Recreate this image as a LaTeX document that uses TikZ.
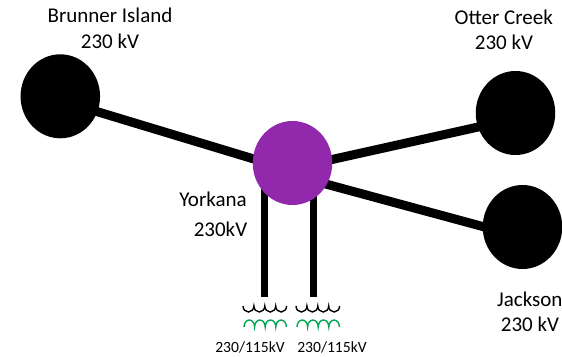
\documentclass[tikz,border=0pt]{standalone}
\usepackage{fontspec}
\setmainfont{Carlito}
\usetikzlibrary{shapes.geometric}
\definecolor{buspurple}{HTML}{9229AD}
\definecolor{coilgreen}{HTML}{00A651}
\tikzset{
    bus/.style={ellipse,fill=#1,inner sep=0pt,minimum width=79.5pt,minimum height=84pt},
    line/.style={line width=9pt,draw=black},
    feeder/.style={line width=7pt,draw=black},
    label/.style={font=\fontsize{21}{23}\selectfont,inner sep=0pt,align=center},
    rating/.style={font=\fontsize{15.6}{17}\selectfont,inner sep=0pt},
    coil/.style={line width=1.4pt}
}
\begin{document}
\begin{tikzpicture}[x=1pt,y=-1pt]
    \useasboundingbox (0,0) rectangle (562,356);
    \clip (0,0) rectangle (562,356);
    \coordinate (feedera) at (264.8,297);
    \coordinate (feederb) at (313.5,297);
    \node[bus=black] (brunner) at (60.3,96.3) {};
    \node[bus=black] (otter) at (515.5,113) {};
    \node[bus=black] (jackson) at (522.5,227) {};
    \coordinate (yorkanacentre) at (292.5,163);
    \draw[line] ([yshift=-4.2pt]brunner.center) -- ([yshift=-7.7pt]yorkanacentre);
    \draw[line] ([yshift=-5.7pt]otter.center) -- ([yshift=-5.3pt]yorkanacentre);
    \draw[line] ([yshift=-10.3pt]jackson.center) -- ([yshift=-12pt]yorkanacentre);
    \draw[feeder] ([xshift=-27.7pt]yorkanacentre) -- (feedera);
    \draw[feeder] ([xshift=21pt]yorkanacentre) -- (feederb);
    \node[bus=buspurple] (yorkana) at (yorkanacentre) {};
    \node[label] (brunnername) at (110,15) {Brunner Island};
    \node[label] (brunnerkv) at (110,41) {230 kV};
    \node[label] (ottername) at (503.8,17) {Otter Creek};
    \node[label] (otterkv) at (504,42) {230 kV};
    \node[label] (yorkananame) at (213,199) {Yorkana};
    \node[label] (yorkanakv) at (220.5,229) {230kV};
    \node[label,anchor=west] (jacksonname) at (497,299) {Jackson};
    \node[label] (jacksonkv) at (530,324) {230 kV};
    \foreach \x in {243,296} {
        \draw[coil,black] (\x,306) arc[start angle=180,end angle=360,x radius=5.45,y radius=-6]
            arc[start angle=180,end angle=360,x radius=5.45,y radius=-6]
            arc[start angle=180,end angle=360,x radius=5.45,y radius=-6]
            arc[start angle=180,end angle=360,x radius=5.45,y radius=-6];
        \draw[coil,coilgreen] (\x+1,327) arc[start angle=180,end angle=0,x radius=5.3,y radius=-7]
            arc[start angle=180,end angle=0,x radius=5.3,y radius=-7]
            arc[start angle=180,end angle=0,x radius=5.3,y radius=-7]
            arc[start angle=180,end angle=0,x radius=5.3,y radius=-7];
    }
    \node[rating] (ratinga) at (250,347) {230/115kV};
    \node[rating] (ratingb) at (332,347) {230/115kV};
\end{tikzpicture}
\end{document}
